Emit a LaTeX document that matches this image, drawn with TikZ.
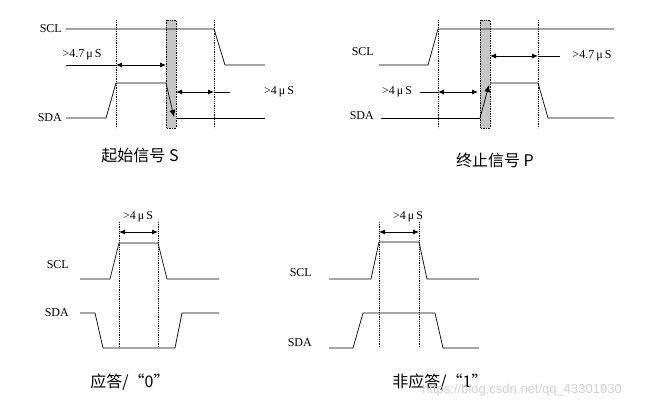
\documentclass[tikz,border=0pt]{standalone}
\usepackage{fontspec}
\setmainfont{Liberation Serif}
\newfontfamily\cjk{Noto Sans CJK SC}
\newfontfamily\wm{Liberation Sans}
\usetikzlibrary{arrows.meta}
\begin{document}
\begin{tikzpicture}[x=1pt,y=-1pt,
  sig/.style={line width=0.7pt},
  dv/.style={densely dotted,line width=0.8pt},
  dim/.style={line width=0.8pt,{Latex[length=6pt,width=5pt]}-{Latex[length=6pt,width=5pt]}},
  lbl/.style={font=\fontsize{12}{12}\selectfont},
  slbl/.style={font=\fontsize{12}{12}\selectfont,anchor=east,inner sep=1pt},
  ttl/.style={font=\cjk\fontsize{16}{16}\selectfont},
  gbox/.style={fill=gray!45,draw,densely dotted,line width=0.7pt}]
\useasboundingbox (0,0) rectangle (647,408);
\fill[white] (0,0) rectangle (647,408);
% Panel 1
\draw[gbox] (166,20) rectangle (176,128);
\draw[dv] (116,20) -- (116,128);
\draw[dv] (214,20) -- (214,128);
\node[slbl] (scl1) at (63,29) {SCL};
\node[slbl] (sda1) at (63,118) {SDA};
\draw[sig] (66,29) -- (214,29) -- (225,65) -- (265,65);
\draw[sig] (66,118) -- (106,118) -- (116,83) -- (166,83);
\draw[sig,-{Latex[length=7pt,width=6pt]}] (166,83) -- (174,117);
\draw[sig] (176,118) -- (265,118);
\node[lbl] (t1a) at (82,55) {>4.7\,μ\,S};
\draw[sig] (66,65) -- (116,65);
\draw[dim] (116,65) -- (166,65);
\draw[dim] (176,92) -- (214,92);
\draw[sig] (214,92) -- (230,92);
\node[lbl] (t1b) at (279,92) {>4\,μ\,S};
\node[ttl] (c1) at (140,155) {起始信号 S};
% Panel 2
\draw[gbox] (480,20) rectangle (490,128);
\draw[dv] (438,20) -- (438,128);
\draw[dv] (538,20) -- (538,128);
\node[slbl] (scl2) at (375,52) {SCL};
\node[slbl] (sda2) at (375,116) {SDA};
\draw[sig] (379,65) -- (428,65) -- (438,29) -- (614,29);
\draw[sig] (381,118) -- (480,118);
\draw[sig,-{Latex[length=7pt,width=6pt]}] (480,118) -- (489,85);
\draw[sig] (490,83) -- (538,83) -- (548,118) -- (614,118);
\draw[dim] (490,56) -- (538,56);
\draw[sig] (538,56) -- (560,56);
\node[lbl] (t2a) at (592,56) {>4.7\,μ\,S};
\draw[sig] (420,92) -- (438,92);
\draw[dim] (438,92) -- (478,92);
\node[lbl] (t2b) at (397,92) {>4\,μ\,S};
\node[ttl] (c2) at (495,160) {终止信号 P};
% Panel 3
\draw[dv] (119,222) -- (119,348);
\draw[dv] (158,222) -- (158,348);
\node[slbl] (scl3) at (70,265) {SCL};
\node[slbl] (sda3) at (70,313) {SDA};
\draw[sig] (80,279) -- (110,279) -- (119,243) -- (158,243) -- (167,279) -- (219,279);
\draw[sig] (80,313) -- (95,313) -- (103,348) -- (175,348) -- (182,313) -- (219,313);
\draw[dim] (119,232) -- (158,232);
\node[lbl] (t3) at (138,217) {>4\,μ\,S};
\node[ttl] (c3) at (130,382) {应答/“0”};
% Panel 4
\draw[dv] (379,222) -- (379,348);
\draw[dv] (419,222) -- (419,348);
\node[slbl] (scl4) at (313,273) {SCL};
\node[slbl] (sda4) at (313,343) {SDA};
\draw[sig] (329,279) -- (371,279) -- (379,242) -- (419,242) -- (427,279) -- (479,279);
\draw[sig] (329,348) -- (353,348) -- (363,313) -- (435,313) -- (443,348) -- (479,348);
\draw[dim] (379,232) -- (419,232);
\node[lbl] (t4) at (408,217) {>4\,μ\,S};
\node[ttl] (c4) at (440,382) {非应答/“1”};
\node[font=\wm\fontsize{13}{13}\selectfont,text=gray!35] (wm) at (522,390) {https://blog.csdn.net/qq\_43301930};
\end{tikzpicture}
\end{document}
